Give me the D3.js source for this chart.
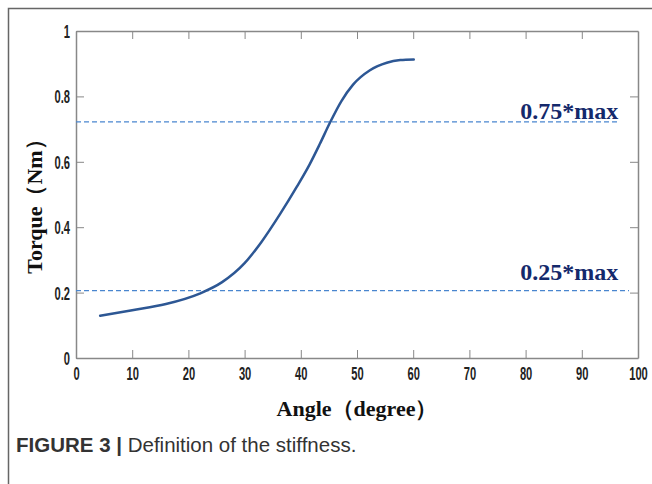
<!DOCTYPE html>
<html>
<head>
<meta charset="utf-8">
<script src="https://cdn.jsdelivr.net/npm/d3@7"></script>
<style>
  body { margin: 0; background: #fff; }
  svg { display: block; }
</style>
</head>
<body>
<div id="chart"></div>
<script>
// curve
var angle  = [4.3, 10, 16, 22, 26, 30, 33, 36.3, 39.3, 41.6, 43.4, 45.2, 47.2, 49.3, 52.3, 55.3, 57.7, 60.1]
var torque = [0.129, 0.146, 0.165, 0.197, 0.232, 0.29, 0.355, 0.44, 0.524, 0.593, 0.655, 0.72, 0.785, 0.836, 0.88, 0.903, 0.911, 0.913]

// reference levels
var refNames  = ["0.75*max", "0.25*max"]
var refValues = [0.722, 0.206]
var refEnds   = [96.8, 98.4]

var xTicks = [0, 10, 20, 30, 40, 50, 60, 70, 80, 90, 100]
var yTicks = [0, 0.2, 0.4, 0.6, 0.8, 1]

var W = 652, H = 484
var margin = {left: 76, top: 31, right: 14, bottom: 126}
var width = W - margin.left - margin.right
var height = H - margin.top - margin.bottom

var root = d3.select("#chart").append("svg")
  .attr("width", W)
  .attr("height", H)

// outer figure frame (left + top)
root.append("path")
  .attr("d", "M8.5," + H + "V8.5H" + W)
  .attr("fill", "none")
  .attr("stroke", "#666")
  .attr("stroke-width", 1.5)

var svg = root.append("g")
  .attr("transform", "translate(" + margin.left + "," + margin.top + ")")

var x = d3.scaleLinear().domain([0, 100]).range([0, width])
var y = d3.scaleLinear().domain([0, 1]).range([height, 0])

var tickFont = "'Liberation Sans', Arial, sans-serif"
var serif = "'Liberation Serif', 'Times New Roman', serif"

function styleAxis(g) {
  g.select(".domain").attr("stroke", "#888").attr("stroke-width", 1.5)
  g.selectAll(".tick line").attr("stroke", "#888").attr("stroke-width", 1)
}

// bottom axis, ticks pointing in
var gx = svg.append("g")
  .attr("transform", "translate(0," + height + ")")
  .call(d3.axisBottom(x).tickValues(xTicks).tickSize(-8).tickSizeOuter(0).tickFormat(d3.format("d")))
styleAxis(gx)
gx.selectAll(".tick text")
  .attr("y", 0).attr("dy", 0)
  .attr("transform", "translate(0,22) scale(0.62,1)")
  .attr("font-family", tickFont).attr("font-weight", "bold")
  .attr("font-size", 18).attr("fill", "#222")

// left axis
var gy = svg.append("g")
  .call(d3.axisLeft(y).tickValues(yTicks).tickSize(-8).tickSizeOuter(0).tickFormat(d => d == 0 || d == 1 ? d : d3.format(".1f")(d)))
styleAxis(gy)
gy.selectAll(".tick text")
  .attr("x", 0).attr("dy", "0.36em")
  .attr("transform", "translate(-6,0) scale(0.62,1)")
  .attr("font-family", tickFont).attr("font-weight", "bold")
  .attr("font-size", 18).attr("fill", "#222")

// top + right axes, ticks only
var gt = svg.append("g")
  .call(d3.axisTop(x).tickValues(xTicks.slice(1, -1)).tickSize(-8).tickSizeOuter(0).tickFormat(""))
styleAxis(gt)
var gr = svg.append("g")
  .attr("transform", "translate(" + width + ",0)")
  .call(d3.axisRight(y).tickValues(yTicks.slice(1, -1)).tickSize(-8).tickSizeOuter(0).tickFormat(""))
styleAxis(gr)

// dashed reference lines
svg.selectAll(".ref")
  .data(refValues)
  .enter()
  .append("line")
  .attr("class", "ref")
  .attr("x1", x(0))
  .attr("x2", (d, i) => x(refEnds[i]))
  .attr("y1", d => y(d))
  .attr("y2", d => y(d))
  .attr("stroke", "#4a86cf")
  .attr("stroke-width", 1.2)
  .attr("stroke-dasharray", "5,3")

var labelOffset = [-2.5, -11]
svg.selectAll(".refLabel")
  .data(refNames)
  .enter()
  .append("text")
  .attr("class", "refLabel")
  .attr("x", x(96.5))
  .attr("y", (d, i) => y(refValues[i]) + labelOffset[i])
  .attr("text-anchor", "end")
  .attr("font-family", serif)
  .attr("font-weight", "bold")
  .attr("font-size", 24)
  .attr("fill", "#14296b")
  .text(d => d)

// torque curve
var line = d3.line()
  .x((d, i) => x(angle[i]))
  .y(d => y(d))
  .curve(d3.curveMonotoneX)

svg.append("path")
  .datum(torque)
  .attr("d", line)
  .attr("fill", "none")
  .attr("stroke", "#2d5794")
  .attr("stroke-width", 2.5)
  .attr("stroke-linecap", "round")

// axis titles
svg.append("text")
  .attr("x", width / 2)
  .attr("y", height + 58)
  .attr("text-anchor", "middle")
  .attr("font-family", serif)
  .attr("font-weight", "bold")
  .attr("font-size", 22)
  .attr("fill", "#111")
  .text("Angle（degree）")

svg.append("text")
  .attr("transform", "translate(-34," + (y(0.48)) + ") rotate(-90)")
  .attr("text-anchor", "middle")
  .attr("font-family", serif)
  .attr("font-weight", "bold")
  .attr("font-size", 22)
  .attr("fill", "#111")
  .text("Torque（Nm）")

// caption
var cap = root.append("text")
  .attr("x", 16)
  .attr("y", 452)
  .attr("font-family", tickFont)
  .attr("font-size", 20.5)
  .attr("fill", "#333")
cap.append("tspan").attr("font-weight", "bold").text("FIGURE 3 | ")
cap.append("tspan").text("Definition of the stiffness.")
</script>
</body>
</html>
